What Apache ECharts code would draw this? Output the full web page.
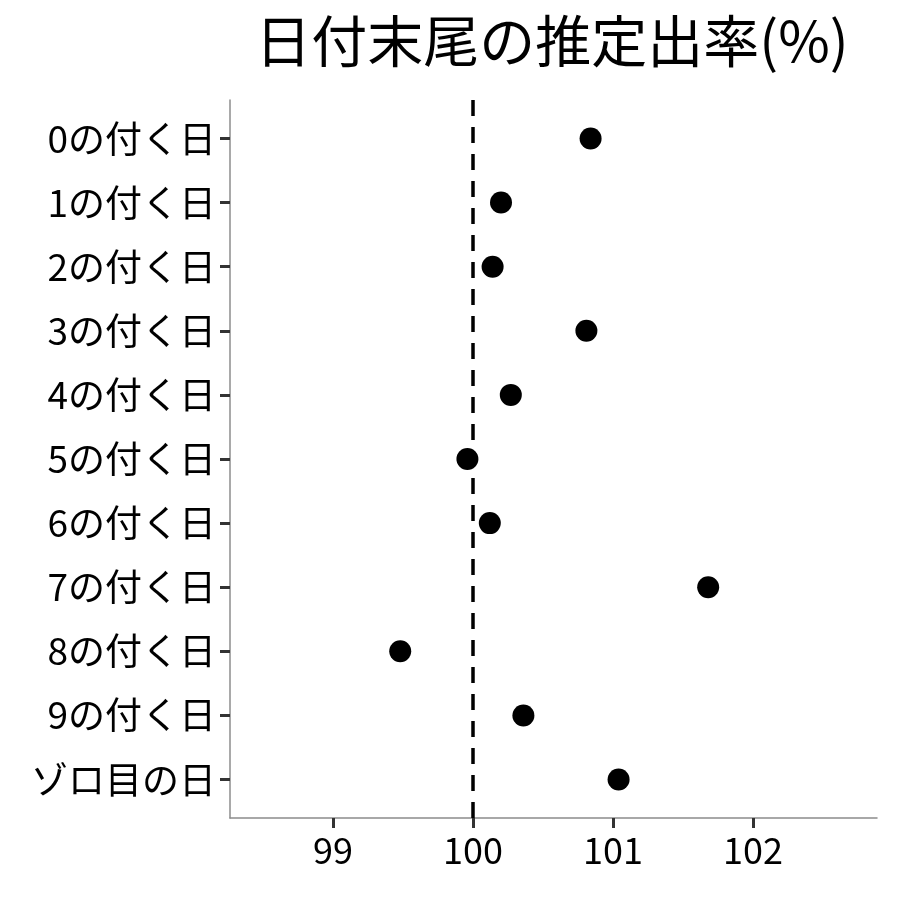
<!DOCTYPE html>
<html>
<head>
<meta charset="utf-8">
<script src="https://cdn.jsdelivr.net/npm/echarts@6/dist/echarts.min.js"></script>
<style>
  html, body { margin: 0; padding: 0; background: #fff; }
  #chart { width: 900px; height: 900px; }
</style>
</head>
<body>
<div id="chart"></div>
<script>
// categories top to bottom
var categories = ['0の付く日', '1の付く日', '2の付く日', '3の付く日', '4の付く日',
  '5の付く日', '6の付く日', '7の付く日', '8の付く日', '9の付く日', 'ゾロ目の日']
// estimated rate (%)
var rates = [100.84, 100.20, 100.14, 100.81, 100.27, 99.96, 100.12, 101.68, 99.48, 100.36, 101.04]
var xTicks = [99, 100, 101, 102]
var refLine = 100

var font = '"Noto Sans CJK JP", "Noto Sans", sans-serif'
var idx = categories.map(function (c, i) { return i })

var chart = echarts.init(document.getElementById('chart'))

var option = {
  backgroundColor: '#fff',
  animation: false,
  title: {
    text: '日付末尾の推定出率(%)',
    left: 547,
    top: 8,
    textAlign: 'center',
    textStyle: { fontFamily: font, fontSize: 56, fontWeight: 'normal', color: '#000' }
  },
  grid: { left: 230, right: 23, top: 100, bottom: 82 },
  xAxis: {
    type: 'value',
    min: 98.264,
    max: 102.886,
    splitLine: { show: false },
    axisLine: { show: true, onZero: false, lineStyle: { color: '#8c8c8c', width: 1.5 } },
    axisTick: { show: true, length: 10, customValues: xTicks, lineStyle: { color: '#333', width: 3 } },
    axisLabel: {
      customValues: xTicks,
      margin: 14,
      fontFamily: font, fontSize: 36, color: '#000'
    }
  },
  yAxis: {
    type: 'value',
    inverse: true,
    min: -0.6,
    max: 10.6,
    splitLine: { show: false },
    axisLine: { show: true, onZero: false, lineStyle: { color: '#8c8c8c', width: 1.5 } },
    axisTick: { show: true, length: 10, customValues: idx, lineStyle: { color: '#333', width: 3 } },
    axisLabel: {
      customValues: idx,
      margin: 14,
      fontFamily: font, fontSize: 37, color: '#000',
      formatter: function (v) { return categories[Math.round(v)] }
    }
  },
  series: [{
    type: 'scatter',
    symbol: 'circle',
    symbolSize: 22,
    itemStyle: { color: '#000', opacity: 1 },
    data: rates.map(function (r, i) { return [r, i] }),
    markLine: {
      silent: true,
      symbol: 'none',
      label: { show: false },
      lineStyle: { color: '#000', width: 3.5, type: [16, 11], opacity: 1 },
      data: [{ xAxis: refLine }]
    },
    z: 3
  }]
}

chart.setOption(option)
</script>
</body>
</html>
